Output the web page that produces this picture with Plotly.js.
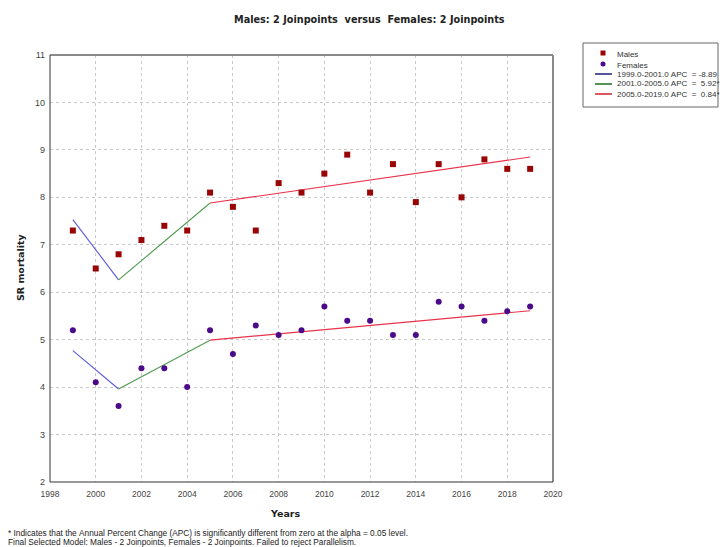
<!DOCTYPE html>
<html>
<head>
<meta charset="utf-8">
<script src="https://cdn.plot.ly/plotly-3.0.1.min.js"></script>
<style>html,body{margin:0;padding:0;background:#fff;}#chart{width:720px;height:547px;}</style>
</head>
<body>
<div id="chart"></div>
<script>
// ---- data ----
const years = [1999,2000,2001,2002,2003,2004,2005,2006,2007,2008,2009,2010,2011,2012,2013,2014,2015,2016,2017,2018,2019];
const males = [7.3,6.5,6.8,7.1,7.4,7.3,8.1,7.8,7.3,8.3,8.1,8.5,8.9,8.1,8.7,7.9,8.7,8.0,8.8,8.6,8.6];
const females = [5.2,4.1,3.6,4.4,4.4,4.0,5.2,4.7,5.3,5.1,5.2,5.7,5.4,5.4,5.1,5.1,5.8,5.7,5.4,5.6,5.7];
const fitYears = [1999,2001,2005,2019];
const maleFit = [7.53,6.26,7.88,8.85];
const femaleFit = [4.77,3.96,4.99,5.61];
const segmentLabels = ["1999.0-2001.0 APC  = -8.89","2001.0-2005.0 APC  =  5.92*","2005.0-2019.0 APC  =  0.84*"];
const seriesLabels = ["Males","Females"];
const titleText = "Males: 2 Joinpoints  versus  Females: 2 Joinpoints";
const footer1 = "* Indicates that the Annual Percent Change (APC) is significantly different from zero at the alpha = 0.05 level.";
const footer2 = "Final Selected Model: Males - 2 Joinpoints, Females - 2 Joinpoints. Failed to reject Parallelism.";

// ---- styles ----
const segColors = ["#5a5ad8","#4f9a4f","#e8334a"];
const legendLineColors = ["#1e1e78","#1e6e1e","#d0202e"];
const maleColor = "#990505";
const femaleColor = "#4a0a8a";
const W = 720, H = 547;
const L = 50, R = 553, T = 55, B = 482;
const px = v => (v - L) / (R - L);
const py = v => (B - v) / (B - T);
const nb = s => s.replace(/ /g, "\u00a0");

const traces = [];
for (let s = 0; s < 3; s++) {
  [maleFit, femaleFit].forEach(fit => {
    traces.push({
      x: [fitYears[s], fitYears[s+1]], y: [fit[s], fit[s+1]],
      mode: "lines", line: {color: segColors[s], width: 1.1},
      hoverinfo: "skip", showlegend: false
    });
  });
}
traces.push({x: years, y: males, mode: "markers", name: seriesLabels[0],
  marker: {symbol: "square", size: 6, color: maleColor}, showlegend: false});
traces.push({x: years, y: females, mode: "markers", name: seriesLabels[1],
  marker: {symbol: "circle", size: 6, color: femaleColor}, showlegend: false});

const shapes = [
  {type: "line", xref: "paper", yref: "paper", x0: 0, x1: 1, y0: 1, y1: 1, line: {color: "#8a8a8a", width: 2}},
  {type: "line", xref: "paper", yref: "paper", x0: 1, x1: 1, y0: 0, y1: 1, line: {color: "#8a8a8a", width: 2}},
  {type: "line", xref: "paper", yref: "paper", x0: 0, x1: 1, y0: 0, y1: 0, line: {color: "#333333", width: 1.2}},
  {type: "line", xref: "paper", yref: "paper", x0: 0, x1: 0, y0: 0, y1: 1, line: {color: "#555555", width: 1.2}},
  {type: "rect", xref: "paper", yref: "paper", x0: px(583), x1: px(718), y0: py(107), y1: py(43),
   line: {color: "#666666", width: 1}, fillcolor: "rgba(0,0,0,0)"},
  {type: "rect", xref: "paper", yref: "paper", xsizemode: "pixel", ysizemode: "pixel",
   xanchor: px(603), yanchor: py(53), x0: -2.5, x1: 2.5, y0: -2.5, y1: 2.5,
   line: {width: 0}, fillcolor: maleColor},
  {type: "circle", xref: "paper", yref: "paper", xsizemode: "pixel", ysizemode: "pixel",
   xanchor: px(603), yanchor: py(64), x0: -2.5, x1: 2.5, y0: -2.5, y1: 2.5,
   line: {width: 0}, fillcolor: femaleColor}
];
const annotations = [
  {text: nb(titleText), xref: "paper", yref: "paper", x: px(369), y: py(20), xanchor: "center", yanchor: "middle",
   showarrow: false, font: {family: "DejaVu Sans", size: 9.7, color: "#222", weight: "bold"}},
  {text: "Years", xref: "paper", yref: "paper", x: px(285), y: py(513), xanchor: "center", yanchor: "middle",
   showarrow: false, font: {family: "DejaVu Sans", size: 9.5, color: "#222", weight: "bold"}},
  {text: "SR mortality", xref: "paper", yref: "paper", x: px(20), y: py(267), xanchor: "center", yanchor: "middle",
   textangle: -90, showarrow: false, font: {family: "DejaVu Sans", size: 9.5, color: "#222", weight: "bold"}},
  {text: nb(footer1), xref: "paper", yref: "paper", x: px(6), y: py(533), xanchor: "left", yanchor: "middle",
   showarrow: false, font: {family: "Liberation Sans", size: 8.3, color: "#222"}},
  {text: nb(footer2), xref: "paper", yref: "paper", x: px(6), y: py(542), xanchor: "left", yanchor: "middle",
   showarrow: false, font: {family: "Liberation Sans", size: 8.3, color: "#222"}}
];
const legRowsY = [54, 65, 74, 84, 94];
[seriesLabels[0], seriesLabels[1], ...segmentLabels].forEach((t, i) => {
  annotations.push({text: nb(t), xref: "paper", yref: "paper", x: px(615), y: py(legRowsY[i]),
    xanchor: "left", yanchor: "middle", showarrow: false,
    font: {family: "Liberation Sans", size: 8, color: "#333"}});
});
segmentLabels.forEach((t, i) => {
  shapes.push({type: "line", xref: "paper", yref: "paper", x0: px(595), x1: px(612),
    y0: py(legRowsY[i+2]), y1: py(legRowsY[i+2]), line: {color: legendLineColors[i], width: 1.5}});
});

const layout = {
  width: W, height: H,
  margin: {l: L, r: W - R, t: T, b: H - B, autoexpand: false},
  paper_bgcolor: "#fff", plot_bgcolor: "#fff",
  showlegend: false,
  xaxis: {range: [1998, 2020], dtick: 2, tick0: 1998, showgrid: true, gridcolor: "#c8c8c8", griddash: "dot",
    gridwidth: 1, zeroline: false, showline: false, ticks: "", ticklabelstandoff: 5,
    tickfont: {family: "Liberation Sans", size: 8.5, color: "#444"}},
  yaxis: {range: [2, 11], dtick: 1, showgrid: true, gridcolor: "#c8c8c8", griddash: "dot",
    gridwidth: 1, zeroline: false, showline: false, ticks: "", ticklabelstandoff: 4,
    tickfont: {family: "Liberation Sans", size: 9, color: "#444"}},
  shapes: shapes, annotations: annotations
};
Plotly.newPlot("chart", traces, layout, {displayModeBar: false, staticPlot: true});
</script>
</body>
</html>
